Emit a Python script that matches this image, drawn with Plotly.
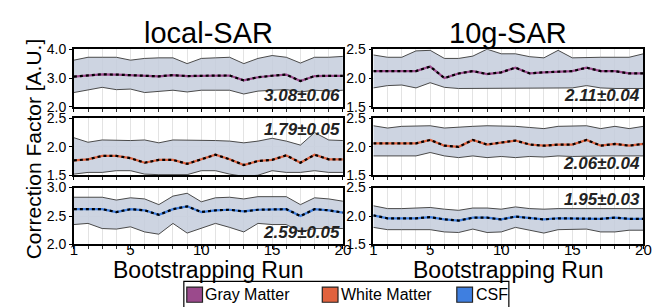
import plotly.graph_objects as go

runs = list(range(1, 21))

# local-SAR
gm_local_mean = [3.05, 3.10, 3.13, 3.12, 3.10, 3.08, 3.06, 3.10, 3.07, 3.08, 3.09, 3.09, 2.92, 3.03, 3.08, 3.12, 2.90, 3.07, 3.08, 3.08]
gm_local_upper = [3.62, 3.72, 3.72, 3.72, 3.62, 3.68, 3.70, 3.70, 3.50, 3.68, 3.70, 3.72, 3.50, 3.68, 3.78, 3.72, 3.52, 3.72, 3.72, 3.75]
gm_local_lower = [2.50, 2.60, 2.68, 2.60, 2.62, 2.50, 2.55, 2.58, 2.52, 2.58, 2.58, 2.58, 2.45, 2.55, 2.58, 2.60, 2.52, 2.58, 2.55, 2.58]

wm_local_mean = [1.76, 1.78, 1.84, 1.84, 1.80, 1.72, 1.77, 1.77, 1.70, 1.78, 1.86, 1.78, 1.68, 1.75, 1.77, 1.85, 1.72, 1.86, 1.78, 1.78]
wm_local_upper = [2.16, 2.08, 2.12, 2.11, 2.11, 2.12, 2.07, 2.12, 2.12, 2.11, 2.11, 2.10, 2.07, 2.10, 2.15, 2.10, 2.03, 2.25, 2.12, 2.11]
wm_local_lower = [1.52, 1.55, 1.55, 1.58, 1.58, 1.52, 1.51, 1.51, 1.51, 1.58, 1.58, 1.52, 1.48, 1.50, 1.58, 1.55, 1.55, 1.58, 1.55, 1.55]

csf_local_mean = [2.62, 2.62, 2.62, 2.57, 2.62, 2.60, 2.52, 2.62, 2.67, 2.57, 2.60, 2.61, 2.58, 2.61, 2.61, 2.62, 2.50, 2.62, 2.60, 2.56]
csf_local_upper = [2.83, 2.83, 2.83, 2.78, 2.82, 2.80, 2.70, 2.85, 2.90, 2.75, 2.82, 2.83, 2.80, 2.84, 2.84, 2.84, 2.70, 2.82, 2.80, 2.76]
csf_local_lower = [2.35, 2.37, 2.28, 2.27, 2.31, 2.22, 2.18, 2.37, 2.20, 2.28, 2.37, 2.30, 2.22, 2.37, 2.35, 2.35, 2.22, 2.28, 2.28, 2.28]

# 10g-SAR
gm_10g_mean = [2.12, 2.12, 2.12, 2.12, 2.20, 2.00, 2.08, 2.12, 2.07, 2.10, 2.18, 2.08, 2.10, 2.11, 2.12, 2.18, 2.12, 2.12, 2.08, 2.08]
gm_10g_upper = [2.40, 2.36, 2.36, 2.47, 2.48, 2.34, 2.34, 2.38, 2.50, 2.42, 2.42, 2.37, 2.35, 2.48, 2.35, 2.36, 2.36, 2.36, 2.36, 2.42]
gm_10g_lower = [1.83, 1.87, 1.88, 1.83, 1.92, 1.84, 1.82, 1.82, 1.82, 1.82, 1.82, 1.82, 1.82, 1.83, 1.83, 1.87, 1.83, 1.82, 1.82, 1.82]

wm_10g_mean = [2.06, 2.06, 2.06, 2.06, 2.12, 2.02, 2.00, 2.12, 2.04, 2.08, 2.11, 2.04, 2.02, 2.04, 2.04, 2.12, 2.02, 2.05, 2.02, 2.05]
wm_10g_upper = [2.37, 2.33, 2.36, 2.37, 2.37, 2.33, 2.35, 2.36, 2.37, 2.37, 2.36, 2.34, 2.32, 2.36, 2.36, 2.37, 2.32, 2.36, 2.32, 2.36]
wm_10g_lower = [1.84, 1.84, 1.84, 1.84, 1.90, 1.84, 1.81, 1.84, 1.81, 1.83, 1.81, 1.83, 1.82, 1.84, 1.83, 1.84, 1.84, 1.84, 1.84, 1.84]

csf_10g_mean = [2.01, 1.96, 1.96, 1.96, 1.98, 1.94, 1.92, 1.97, 1.97, 1.94, 1.99, 1.96, 1.94, 1.96, 1.96, 1.96, 1.95, 1.97, 1.95, 1.95]
csf_10g_upper = [2.18, 2.13, 2.13, 2.14, 2.15, 2.12, 2.10, 2.14, 2.14, 2.12, 2.16, 2.13, 2.12, 2.13, 2.13, 2.14, 2.14, 2.13, 2.13, 2.13]
csf_10g_lower = [1.80, 1.76, 1.76, 1.76, 1.76, 1.72, 1.71, 1.77, 1.71, 1.72, 1.80, 1.75, 1.70, 1.76, 1.76, 1.77, 1.72, 1.72, 1.75, 1.75]

summary_labels = ["3.08±0.06", "1.79±0.05", "2.59±0.05", "2.11±0.04", "2.06±0.04", "1.95±0.03"]
column_titles = ["local-SAR", "10g-SAR"]
tissue_names = ["Gray Matter", "White Matter", "CSF"]
tissue_colors = ["#9b4a8c", "#e0623e", "#3f7fe0"]
x_ticks = [1, 5, 10, 15, 20]

FONT = "Liberation Sans, Arial, sans-serif"
BAND = "rgba(196,205,220,0.85)"
EDGE = "#4a4a4a"

panels = [
    # (col, row, mean, upper, lower, tissue, yrange, dtick, label, label_top)
    (0, 0, gm_local_mean, gm_local_upper, gm_local_lower, 0, [2.0, 4.0], 1.0, summary_labels[0], False),
    (0, 1, wm_local_mean, wm_local_upper, wm_local_lower, 1, [1.5, 2.5], 0.5, summary_labels[1], True),
    (0, 2, csf_local_mean, csf_local_upper, csf_local_lower, 2, [2.0, 3.0], 0.5, summary_labels[2], False),
    (1, 0, gm_10g_mean, gm_10g_upper, gm_10g_lower, 0, [1.5, 2.5], 0.5, summary_labels[3], False),
    (1, 1, wm_10g_mean, wm_10g_upper, wm_10g_lower, 1, [1.5, 2.5], 0.5, summary_labels[4], False),
    (1, 2, csf_10g_mean, csf_10g_upper, csf_10g_lower, 2, [1.5, 2.5], 0.5, summary_labels[5], True),
]

W, H = 664, 307
xdom = [[63 / W, 337 / W], [368 / W, 643 / W]]
rows_px = [(35, 96), (108, 168), (181, 241)]
ydom = [[1 - b / H, 1 - t / H] for (t, b) in rows_px]

def px(x, y):
    return x / W, 1 - y / H

fig = go.Figure()
layout = {}
annotations = []
shapes = []

for i, (col, row, mean, upper, lower, tis, yr, dt, lab, top) in enumerate(panels):
    n = i + 1
    xa = "x" if n == 1 else f"x{n}"
    ya = "y" if n == 1 else f"y{n}"
    fig.add_trace(go.Scatter(x=runs, y=upper, mode="lines", line=dict(color=EDGE, width=1),
                             xaxis=xa, yaxis=ya, showlegend=False, hoverinfo="skip"))
    fig.add_trace(go.Scatter(x=runs, y=lower, mode="lines", line=dict(color=EDGE, width=1),
                             fill="tonexty", fillcolor=BAND,
                             xaxis=xa, yaxis=ya, showlegend=False, hoverinfo="skip"))
    fig.add_trace(go.Scatter(x=runs, y=mean, mode="lines", line=dict(color=tissue_colors[tis], width=2.2),
                             xaxis=xa, yaxis=ya, showlegend=False))
    fig.add_trace(go.Scatter(x=runs, y=mean, mode="lines", line=dict(color="black", width=2.2, dash="dot"),
                             xaxis=xa, yaxis=ya, showlegend=False, hoverinfo="skip"))
    bottom = row == 2
    layout["xaxis" if n == 1 else f"xaxis{n}"] = dict(
        domain=xdom[col], anchor=ya, range=[1, 20], tickmode="array", tickvals=x_ticks,
        ticktext=[str(v) for v in x_ticks], showticklabels=bottom,
        ticks="outside", ticklen=3, tickcolor="black", tickwidth=1,
        tickfont=dict(family=FONT, size=15, color="black"), ticklabelstandoff=-12,
        showgrid=False, zeroline=False,
        minor=dict(tickmode="linear", tick0=1, dtick=1, ticks="outside", ticklen=3,
                   tickcolor="#333", showgrid=True, gridcolor="#e3e3e3", gridwidth=1),
        showline=True, linecolor="black", linewidth=1.5, mirror=True,
    )
    layout["yaxis" if n == 1 else f"yaxis{n}"] = dict(
        domain=ydom[row], anchor=xa, range=yr, dtick=dt, tick0=yr[0], tickformat=".1f",
        ticks="outside", ticklen=3, tickcolor="black",
        tickfont=dict(family=FONT, size=14, color="black"),
        showgrid=True, gridcolor="#eeeeee", zeroline=False,
        showline=True, linecolor="black", linewidth=1.5, mirror=True,
    )
    annotations.append(dict(
        xref=f"{xa} domain", yref=f"{ya} domain", x=0.995, y=1.0 if top else 0.0,
        xanchor="right", yanchor="top" if top else "bottom",
        text=f"<b><i>{lab}</i></b>", showarrow=False,
        font=dict(family=FONT, size=17, color="#222"),
    ))

for col, title in enumerate(column_titles):
    cx = (xdom[col][0] + xdom[col][1]) / 2
    annotations.append(dict(xref="paper", yref="paper", x=cx, y=1 - 18 / H,
                            text=title, showarrow=False, xanchor="center", yanchor="middle",
                            font=dict(family=FONT, size=29, color="black")))
    annotations.append(dict(xref="paper", yref="paper", x=cx, y=1 - 268 / H,
                            text="Bootstrapping Run", showarrow=False, xanchor="center", yanchor="middle",
                            font=dict(family=FONT, size=23, color="black")))

annotations.append(dict(xref="paper", yref="paper", x=22 / W, y=1 - 140 / H, text="Correction Factor [A.U.]",
                        textangle=-90, showarrow=False, xanchor="center", yanchor="middle",
                        font=dict(family=FONT, size=21, color="black")))

# legend (drawn as box + swatches + text)
x0, y0 = px(175, 280)
x1, y1 = px(506, 312)
shapes.append(dict(type="rect", xref="paper", yref="paper", x0=x0, y0=y1, x1=x1, y1=y0,
                   line=dict(color="black", width=1.2), fillcolor="white", layer="above"))
swatch_x = [178, 316, 453]
for sx, tname, tcol in zip(swatch_x, tissue_names, tissue_colors):
    a0, b0 = px(sx, 286)
    a1, b1 = px(sx + 16, 302)
    shapes.append(dict(type="rect", xref="paper", yref="paper", x0=a0, y0=b1, x1=a1, y1=b0,
                       line=dict(color="#222", width=1.2), fillcolor=tcol, layer="above"))
    tx, ty = px(sx + 17, 294)
    annotations.append(dict(xref="paper", yref="paper", x=tx, y=ty, text=tname, showarrow=False,
                            xanchor="left", yanchor="middle",
                            font=dict(family=FONT, size=16, color="black")))

fig.update_layout(
    width=W, height=H, margin=dict(l=0, r=0, t=0, b=0),
    paper_bgcolor="white", plot_bgcolor="white",
    annotations=annotations, shapes=shapes, showlegend=False,
    **layout,
)

fig.write_html("out.html")
